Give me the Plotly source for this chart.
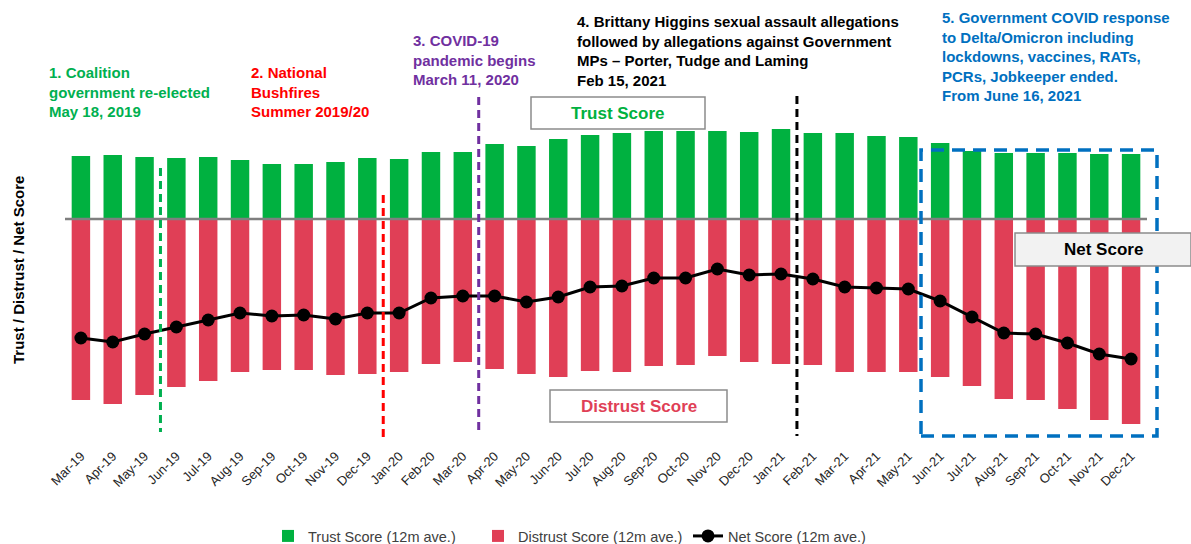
import plotly.graph_objects as go

months = ["Mar-19", "Apr-19", "May-19", "Jun-19", "Jul-19", "Aug-19", "Sep-19", "Oct-19", "Nov-19", "Dec-19",
          "Jan-20", "Feb-20", "Mar-20", "Apr-20", "May-20", "Jun-20", "Jul-20", "Aug-20", "Sep-20", "Oct-20",
          "Nov-20", "Dec-20", "Jan-21", "Feb-21", "Mar-21", "Apr-21", "May-21", "Jun-21", "Jul-21", "Aug-21",
          "Sep-21", "Oct-21", "Nov-21", "Dec-21"]
trust = [63, 64, 62, 61, 62, 59, 55, 55, 57, 61,
         60, 67, 67, 75, 73, 80, 84, 86, 88, 88,
         88, 87, 90, 86, 86, 83, 82, 76, 68, 66,
         66, 66, 65, 65]
distrust = [181, 185, 176, 168, 162, 153, 151, 151, 156, 155,
            153, 145, 143, 150, 155, 158, 152, 153, 147, 146,
            137, 143, 145, 146, 153, 153, 153, 158, 167, 180,
            181, 190, 201, 205]
net = [-119, -123, -115, -108, -101, -94, -97, -96, -100, -94,
       -94, -79, -77, -77, -83, -78, -68, -67, -59, -59,
       -50, -56, -55, -60, -68, -69, -70, -82, -98, -114,
       -115, -124, -135, -140]

W, H = 1191, 544
L, R, T, B = 65, 44, 20, 99
PW, PH = W - L - R, H - T - B
FONT = "Liberation Sans, Arial, sans-serif"

def px(x):
    return (x - L) / PW

def py(y):
    return (H - B - y) / PH

idx = list(range(len(months)))

fig = go.Figure()
fig.add_trace(go.Bar(x=idx, y=trust, name="Trust Score (12m ave.)", marker_color="#00B140",
                     marker_line_width=0, width=0.58))
fig.add_trace(go.Bar(x=idx, y=[-d for d in distrust], name="Distrust Score (12m ave.)",
                     marker_color="#E03F56", marker_line_width=0, width=0.58))
fig.add_trace(go.Scatter(x=idx, y=net, name="Net Score (12m ave.)", mode="lines+markers",
                         line=dict(color="black", width=3), marker=dict(color="black", size=13)))

shapes = []
shapes.append(dict(type="line", xref="x", yref="y", x0=-0.5, x1=len(months) - 0.5, y0=0, y1=0,
                   line=dict(color="#7F7F7F", width=2.5), layer="above"))
events = [(2.5, 51, -213, "#00B050"), (9.5, 24, -223, "#FF0000"),
          (12.5, 122, -213, "#7030A0"), (22.5, 123, -217, "black")]
for x, y0, y1, c in events:
    shapes.append(dict(type="line", xref="x", yref="y", x0=x, x1=x, y0=y0, y1=y1,
                       line=dict(color=c, width=3, dash="8px,5px"), layer="above"))
shapes.append(dict(type="rect", xref="paper", yref="paper", x0=px(921), x1=px(1157), y0=py(436), y1=py(150),
                   line=dict(color="#0070C0", width=3.5, dash="13px,8px"), layer="above"))

boxes = [
    (531, 97, 705, 129, "white", "Trust Score", "#00B140"),
    (550, 390, 727, 422, "white", "Distrust Score", "#E03F56"),
    (1015, 233, 1191, 266, "#F2F2F2", "Net Score", "black"),
]
annotations = []
for x0, y0, x1, y1, fill, txt, col in boxes:
    shapes.append(dict(type="rect", xref="paper", yref="paper", x0=px(x0), x1=px(x1), y0=py(y1), y1=py(y0),
                       fillcolor=fill, line=dict(color="#8C8C8C", width=1.5), layer="above"))
    annotations.append(dict(x=px((x0 + x1) / 2), y=py((y0 + y1) / 2), xref="paper", yref="paper",
                            text="<b>%s</b>" % txt, showarrow=False, font=dict(size=17, color=col, family=FONT),
                            xanchor="center", yanchor="middle"))

notes = [
    (47, 62, "1. Coalition<br>government re-elected<br>May 18, 2019", "#00B050"),
    (249, 62, "2. National<br>Bushfires<br>Summer 2019/20", "#FF0000"),
    (411, 30, "3. COVID-19<br>pandemic begins<br>March 11, 2020", "#7030A0"),
    (575, 11, "4. Brittany Higgins sexual assault allegations<br>followed by allegations against Government<br>MPs – Porter, Tudge and Laming<br>Feb 15, 2021", "black"),
    (940, 7, "5. Government COVID response<br>to Delta/Omicron including<br>lockdowns, vaccines, RATs,<br>PCRs, Jobkeeper ended.<br>From June 16, 2021", "#0070C0"),
]
for x, y, txt, col in notes:
    annotations.append(dict(x=px(x), y=py(y), xref="paper", yref="paper", text="<b>%s</b>" % txt,
                            showarrow=False, align="left", xanchor="left", yanchor="top",
                            font=dict(size=15, color=col, family=FONT)))

annotations.append(dict(x=px(18), y=py(270), xref="paper", yref="paper",
                        text="<b>Trust / Distrust / Net Score</b>", textangle=-90, showarrow=False,
                        font=dict(size=15, color="black", family=FONT), xanchor="center", yanchor="middle"))

fig.update_layout(
    width=W, height=H, margin=dict(l=L, r=R, t=T, b=B, autoexpand=False),
    paper_bgcolor="white", plot_bgcolor="white",
    barmode="overlay", showlegend=True,
    font=dict(family=FONT, color="#404040"),
    shapes=shapes, annotations=annotations,
    legend=dict(orientation="h", x=px(268), y=py(536), xanchor="left", yanchor="middle",
                font=dict(size=14.5, color="#404040", family=FONT), itemwidth=30, tracegroupgap=0,
                entrywidth=165, entrywidthmode="pixels"),
    xaxis=dict(range=[-0.5, len(months) - 0.5], tickmode="array", tickvals=idx, ticktext=months,
               tickangle=-45, showgrid=False, zeroline=False, showline=False, ticks="", automargin=False,
               tickfont=dict(size=13, color="#262626", family=FONT)),
    yaxis=dict(range=[-226, 199], showticklabels=False, showgrid=False, zeroline=False, showline=False,
               ticks="", automargin=False),
)

fig.write_html("out.html", config={"displayModeBar": False},
               post_script="document.body.style.margin='0px';document.body.style.overflow='hidden';")
